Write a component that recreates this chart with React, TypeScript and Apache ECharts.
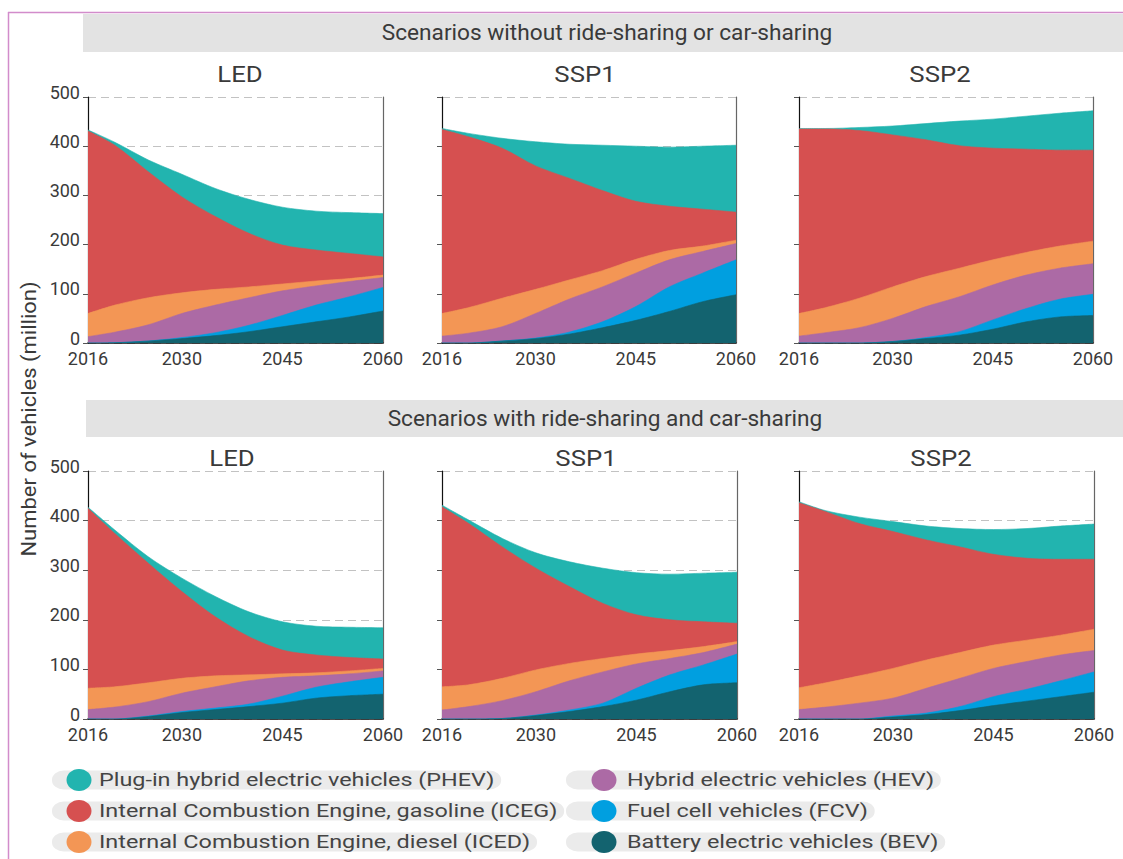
import React, { useEffect, useRef } from "react";
import * as echarts from "echarts";

// ---------- data ----------
const years = [2016, 2020, 2025, 2030, 2035, 2040, 2045, 2050, 2055, 2060];
const xTickValues = [2016, 2030, 2045, 2060];
const yMin = 0;
const yMax = 500;
const yStep = 100;

// stacking order bottom -> top
const vehicleTypes = ["BEV", "FCV", "HEV", "ICED", "ICEG", "PHEV"];

const typeColors: Record<string, string> = {
  BEV: "#13636f",
  FCV: "#009fe0",
  HEV: "#ac6aa5",
  ICED: "#f39655",
  ICEG: "#d65050",
  PHEV: "#22b4af",
};

const legendItems = [
  { key: "PHEV", label: "Plug-in hybrid electric vehicles (PHEV)" },
  { key: "ICEG", label: "Internal Combustion Engine, gasoline (ICEG)" },
  { key: "ICED", label: "Internal Combustion Engine, diesel (ICED)" },
  { key: "HEV", label: "Hybrid electric vehicles (HEV)" },
  { key: "FCV", label: "Fuel cell vehicles (FCV)" },
  { key: "BEV", label: "Battery electric vehicles (BEV)" },
];

const rowTitles = [
  "Scenarios without ride-sharing or car-sharing",
  "Scenarios with ride-sharing and car-sharing",
];
const scenarioTitles = ["LED", "SSP1", "SSP2"];
const yAxisTitle = "Number of vehicles (million)";

// Scenarios without ride-sharing or car-sharing
const ledNoShare = {
  BEV: [0, 0.5, 4, 9, 15, 23, 33, 43, 53, 65],
  FCV: [0, 0, 0, 2, 6, 13, 23, 34, 41, 48],
  HEV: [13, 21.5, 33, 49, 56, 56, 50, 39, 31, 20],
  ICED: [47, 55, 55, 42, 32, 22, 14, 10, 6, 5],
  ICEG: [371, 325, 256, 195, 148, 109, 79, 63, 51, 37],
  PHEV: [2, 6, 24, 46, 57, 69, 77, 79, 83, 88],
};
const ssp1NoShare = {
  BEV: [0, 0, 4, 9, 18, 31, 46, 64, 84, 98],
  FCV: [0, 0, 0, 1, 4, 12, 28, 50, 58, 71],
  HEV: [14, 20, 29, 50, 67, 71, 68, 55, 44, 33],
  ICED: [46, 52, 58, 49, 39, 33, 28, 19, 11, 7],
  ICEG: [374, 347, 305, 251, 207, 163, 118, 90, 75, 57],
  PHEV: [2, 7, 20, 49, 69, 92, 112, 120, 128, 136],
};
const ssp2NoShare = {
  BEV: [0, 0, 0, 3, 9, 16, 28, 43, 53, 56],
  FCV: [0, 0, 0, 0, 2, 7, 19, 27, 36, 43],
  HEV: [14, 21, 31, 47, 63, 71, 71, 68, 63, 62],
  ICED: [46, 51, 60, 64, 61, 58, 51, 46, 45, 46],
  ICEG: [375, 363, 341, 309, 278, 249, 227, 210, 195, 185],
  PHEV: [1, 1, 6, 18, 33, 50, 59, 67, 75, 80],
};

// Scenarios with ride-sharing and car-sharing
const ledShare = {
  BEV: [0, 0, 5, 13, 19, 25, 32, 42, 47, 50],
  FCV: [0, 0, 1, 2, 3, 5, 14, 22, 28, 34],
  HEV: [19, 24, 29, 37, 43, 47, 38, 23, 16, 13],
  ICED: [43, 41, 38, 30, 22, 12, 7, 6, 6, 5],
  ICEG: [363, 309, 241, 175, 119, 77, 48, 36, 27, 19],
  PHEV: [2, 7, 13, 27, 41, 50, 57, 58, 61, 63],
};
const ssp1Share = {
  BEV: [0, 0, 1, 7, 15, 25, 38, 55, 69, 73],
  FCV: [0, 0, 0, 1, 3, 7, 24, 34, 40, 58],
  HEV: [18, 25, 36, 47, 59, 63, 49, 33, 25, 20],
  ICED: [47, 44, 45, 44, 35, 27, 20, 16, 12, 5],
  ICEG: [363, 325, 265, 205, 155, 111, 79, 62, 50, 37],
  PHEV: [3, 7, 17, 31, 50, 71, 85, 92, 98, 103],
};
const ssp2Share = {
  BEV: [0, 0, 0, 4, 9, 17, 27, 36, 45, 54],
  FCV: [0, 0, 0, 2, 3, 8, 18, 24, 32, 41],
  HEV: [19, 24, 32, 36, 50, 57, 57, 56, 52, 43],
  ICED: [44, 49, 55, 60, 57, 52, 47, 43, 40, 43],
  ICEG: [373, 345, 307, 276, 242, 213, 183, 165, 153, 141],
  PHEV: [2, 2, 13, 20, 28, 37, 50, 60, 67, 71],
};

const panelData = [ledNoShare, ssp1NoShare, ssp2NoShare, ledShare, ssp1Share, ssp2Share];

// ---------- layout ----------
const panelLayout = [
  { left: 88, top: 97, width: 295, height: 246, titleX: 240, titleY: 74 },
  { left: 442, top: 97, width: 294, height: 246, titleX: 585, titleY: 74 },
  { left: 799, top: 97, width: 294, height: 246, titleX: 940, titleY: 74 },
  { left: 88, top: 471, width: 295, height: 248, titleX: 232, titleY: 458 },
  { left: 442, top: 471, width: 295, height: 248, titleX: 586, titleY: 458 },
  { left: 799, top: 471, width: 295, height: 248, titleX: 941, titleY: 458 },
];

const FONT = 'Roboto, "Noto Sans", sans-serif';
const TEXT = "#3a3a3a";

function buildOption() {
  const grid: any[] = [];
  const xAxis: any[] = [];
  const yAxis: any[] = [];
  const series: any[] = [];
  const graphic: any[] = [];

  panelLayout.forEach((L, i) => {
    const showY = i % 3 === 0;
    grid.push({
      left: L.left,
      top: L.top,
      width: L.width,
      height: L.height,
      containLabel: false,
      outerBoundsMode: "none",
    });
    xAxis.push({
      type: "value",
      gridIndex: i,
      min: years[0],
      max: years[years.length - 1],
      axisLine: { show: true, onZero: false, lineStyle: { color: "#111", width: 1.5 } },
      axisTick: { show: false },
      splitLine: { show: false },
      axisLabel: {
        customValues: xTickValues,
        formatter: (v: number) => String(v),
        color: TEXT,
        fontSize: 18,
        fontFamily: FONT,
        margin: 6,
      },
    });
    yAxis.push({
      type: "value",
      gridIndex: i,
      position: "left",
      min: yMin,
      max: yMax,
      interval: yStep,
      axisLine: { show: true, lineStyle: { color: "#111", width: 1.2 } },
      axisTick: { show: true, length: 5, lineStyle: { color: "#555" } },
      axisLabel: {
        show: showY,
        color: TEXT,
        fontSize: 18,
        fontFamily: FONT,
        margin: 8,
        verticalAlign: "bottom",
        lineHeight: 10,
      },
      splitLine: {
        show: true,
        lineStyle: { type: [8, 5], color: "#c2c2c2", width: 1 },
      },
    });
    yAxis.push({
      type: "value",
      gridIndex: i,
      position: "right",
      min: yMin,
      max: yMax,
      interval: yStep,
      axisLine: { show: true, lineStyle: { color: "#666", width: 1.2 } },
      axisTick: { show: false },
      axisLabel: { show: false },
      splitLine: { show: false },
    });

    // cumulative tops (stacked by hand); drawn from top layer down so lower layers paint over
    const d: any = panelData[i];
    const cumulative: number[][] = [];
    vehicleTypes.forEach((t, ti) => {
      cumulative.push(
        years.map((_, k) => (ti === 0 ? 0 : cumulative[ti - 1][k]) + d[t][k])
      );
    });
    for (let ti = vehicleTypes.length - 1; ti >= 0; ti--) {
      const t = vehicleTypes[ti];
      series.push({
        type: "line",
        name: t,
        xAxisIndex: i,
        yAxisIndex: 2 * i,
        smooth: 0.3,
        symbol: "none",
        showSymbol: false,
        silent: true,
        lineStyle: { width: 0.6, color: typeColors[t] },
        itemStyle: { color: typeColors[t] },
        areaStyle: { color: typeColors[t], opacity: 1, origin: "start" },
        data: years.map((y, k) => [y, cumulative[ti][k]]),
      });
    }

    graphic.push({
      type: "text",
      x: L.titleX,
      y: L.titleY,
      scaleX: 1.12,
      z: 5,
      style: {
        text: scenarioTitles[i % 3],
        fontSize: 23,
        fontFamily: FONT,
        fill: TEXT,
        align: "center",
        textAlign: "center",
        verticalAlign: "middle",
        textVerticalAlign: "middle",
      },
    });
  });

  // frame lines
  graphic.push({
    type: "line",
    shape: { x1: 8, y1: 12.5, x2: 1123, y2: 12.5 },
    style: { stroke: "#d28ccb", lineWidth: 1.5 },
  });
  graphic.push({
    type: "line",
    shape: { x1: 8.5, y1: 12, x2: 8.5, y2: 859 },
    style: { stroke: "#d28ccb", lineWidth: 1.5 },
  });

  // header bands
  const bands = [
    { x: 83, y: 14, w: 1040, h: 38, tx: 607, ty: 32 },
    { x: 86, y: 400, w: 1037, h: 37, tx: 605, ty: 418 },
  ];
  bands.forEach((b, k) => {
    graphic.push({
      type: "rect",
      shape: { x: b.x, y: b.y, width: b.w, height: b.h },
      style: { fill: "#e3e3e3" },
      z: 1,
    });
    graphic.push({
      type: "text",
      x: b.tx,
      y: b.ty,
      scaleX: 1.03,
      z: 2,
      style: {
        text: rowTitles[k],
        fontSize: 22,
        fontFamily: FONT,
        fill: TEXT,
        align: "center",
        textAlign: "center",
        verticalAlign: "middle",
        textVerticalAlign: "middle",
      },
    });
  });

  // y axis title
  graphic.push({
    type: "text",
    x: 29,
    y: 419,
    rotation: Math.PI / 2,
    scaleX: 1.1,
    z: 2,
    style: {
      text: yAxisTitle,
      fontSize: 20,
      fontFamily: FONT,
      fill: TEXT,
      align: "center",
      textAlign: "center",
      verticalAlign: "middle",
      textVerticalAlign: "middle",
    },
  });

  // legend
  const legendCols = [
    { pillX: 52, cx: 79, textX: 99 },
    { pillX: 566, cx: 604, textX: 627 },
  ];
  const legendRows = [780, 811, 842];
  const legScale = 1.3;
  legendItems.forEach((it, k) => {
    const col = legendCols[Math.floor(k / 3)];
    const rowY = legendRows[k % 3];
    graphic.push({
      type: "text",
      x: col.pillX,
      y: rowY,
      scaleX: legScale,
      z: 3,
      style: {
        text: it.label,
        fontSize: 18,
        fontFamily: FONT,
        fill: "#444",
        lineHeight: 19,
        backgroundColor: "#ebebeb",
        borderRadius: 9,
        padding: [0, 5, 0, (col.textX - col.pillX) / legScale],
        align: "left",
        textAlign: "left",
        verticalAlign: "middle",
        textVerticalAlign: "middle",
      },
    });
    graphic.push({
      type: "ellipse",
      shape: { cx: col.cx, cy: rowY, rx: 12.5, ry: 11 },
      style: { fill: typeColors[it.key] },
      z: 4,
    });
  });

  return {
    animation: false,
    backgroundColor: "#ffffff",
    textStyle: { fontFamily: FONT },
    grid,
    xAxis,
    yAxis,
    series,
    graphic,
  };
}

export default function App() {
  const ref = useRef<HTMLDivElement>(null);
  useEffect(() => {
    if (!ref.current) return;
    const chart = echarts.init(ref.current, undefined, { renderer: "svg" });
    chart.setOption(buildOption() as any);
    return () => chart.dispose();
  }, []);
  return (
    <div
      ref={ref}
      style={{
        position: "fixed",
        left: 0,
        top: 0,
        width: 1123,
        height: 859,
        background: "#fff",
      }}
    />
  );
}
